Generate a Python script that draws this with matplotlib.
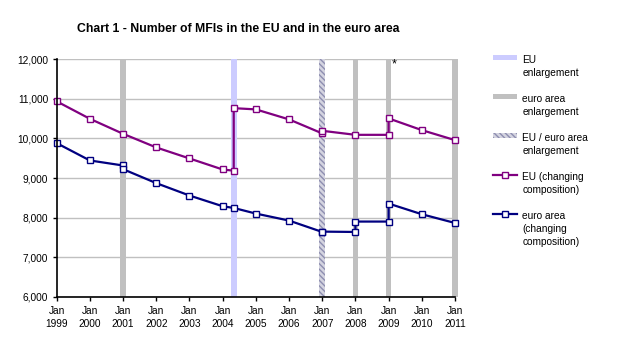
import matplotlib
matplotlib.use("Agg")
import matplotlib.pyplot as plt
from matplotlib.patches import Patch
from matplotlib.lines import Line2D

plt.rcParams["font.family"] = ["Liberation Sans", "DejaVu Sans"]
plt.rcParams["hatch.linewidth"] = 1.0

# enlargement dates (decimal years)
eu_enlarge = [2004 + 4 / 12]
ea_enlarge = [2001, 2008, 2009, 2011]
both_enlarge = [2007]

# EU (changing composition)
eu_x = [1999, 2000, 2001, 2002, 2003, 2004, 2004 + 4 / 12, 2004 + 4 / 12,
        2005, 2006, 2007, 2007, 2008, 2009, 2009, 2010, 2011]
eu_y = [10937, 10496, 10117, 9772, 9494, 9215, 9185, 10765,
        10734, 10481, 10127, 10193, 10091, 10091, 10506, 10210, 9957]

# euro area (changing composition)
ea_x = [1999, 2000, 2001, 2001, 2002, 2003, 2004, 2004 + 4 / 12,
        2005, 2006, 2007, 2007, 2008, 2008, 2009, 2009, 2010, 2011]
ea_y = [9881, 9443, 9316, 9223, 8870, 8557, 8286, 8243,
        8101, 7924, 7636, 7645, 7636, 7899, 7899, 8354, 8084, 7863]

years = list(range(1999, 2012))
xlabels = [f"Jan\n{y}" for y in years]
yticks = [6000, 7000, 8000, 9000, 10000, 11000, 12000]

fs = 7.3
c_eu_bar = "#CCCCFF"
c_ea_bar = "#C0C0C0"
c_eu = "#800080"
c_ea = "#000080"
hatch = "\\\\\\\\\\\\"

fig = plt.figure(figsize=(6.23, 3.55), dpi=100)
ax = fig.add_axes([56.7 / 623, 1 - 296.7 / 355, (455 - 56.7) / 623, (296.7 - 59.3) / 355])

ymin, ymax = 6000, 12000
bw = 0.17
ax.bar(eu_enlarge, ymax - ymin, bottom=ymin, width=bw, color=c_eu_bar, lw=0, zorder=1, clip_on=False)
ax.bar(ea_enlarge, ymax - ymin, bottom=ymin, width=bw, color=c_ea_bar, lw=0, zorder=1, clip_on=False)
ax.bar(both_enlarge, ymax - ymin, bottom=ymin, width=bw, facecolor="#D4D4E0", edgecolor="#8E8EB0",
       hatch=hatch, lw=0, zorder=1)

ax.plot(eu_x, eu_y, color=c_eu, lw=1.6, marker="s", ms=4.2, mfc="white", mec=c_eu, mew=1.0,
        zorder=3, clip_on=False)
ax.plot(ea_x, ea_y, color=c_ea, lw=1.6, marker="s", ms=4.2, mfc="white", mec=c_ea, mew=1.0,
        zorder=3, clip_on=False)

ax.text(2009.16, 11870, "*", fontsize=9, ha="center", va="center")

ax.set_xlim(1999, 2011)
ax.set_ylim(ymin, ymax)
ax.set_xticks(years)
ax.set_xticklabels(xlabels, fontsize=fs, linespacing=1.35)
ax.set_yticks(yticks)
ax.set_yticklabels([f"{v:,}" for v in yticks], fontsize=fs)
ax.tick_params(axis="both", direction="out", length=3, width=1, color="black")
ax.tick_params(axis="x", pad=4)
ax.tick_params(axis="y", pad=3)
ax.yaxis.grid(True, color="#C0C0C0", lw=1)
ax.set_axisbelow(True)
for s in ["top", "right"]:
    ax.spines[s].set_visible(False)
for s in ["left", "bottom"]:
    ax.spines[s].set_linewidth(1.2)
    ax.spines[s].set_zorder(4)

fig.text(77 / 623, 1 - 32 / 355, "Chart 1 - Number of MFIs in the EU and in the euro area",
         fontsize=8.8, fontweight="bold", va="baseline")

handles = [
    Patch(facecolor=c_eu_bar, lw=0),
    Patch(facecolor=c_ea_bar, lw=0),
    Patch(facecolor="#D4D4E0", edgecolor="#8E8EB0", hatch=hatch, lw=0),
    Line2D([], [], color=c_eu, lw=1.6, marker="s", ms=4.2, mfc="white", mec=c_eu, mew=1.0),
    Line2D([], [], color=c_ea, lw=1.6, marker="s", ms=4.2, mfc="white", mec=c_ea, mew=1.0),
]
labels = ["EU\nenlargement", "euro area\nenlargement", "EU / euro area\nenlargement",
          "EU (changing\ncomposition)", "euro area\n(changing\ncomposition)"]
leg = fig.legend(handles, labels, loc="upper left", bbox_to_anchor=(493 / 623, 1 - 55 / 355),
                 frameon=False, fontsize=fs, handlelength=2.4, handleheight=0.45,
                 handletextpad=0.5, labelspacing=1.55, borderpad=0, borderaxespad=0)
for t in leg.get_texts():
    t.set_linespacing(1.4)
for col in leg._legend_handle_box.get_children():
    for row in col.get_children():
        row.align = "top"

fig.savefig("out.png", dpi=100, facecolor="white")
